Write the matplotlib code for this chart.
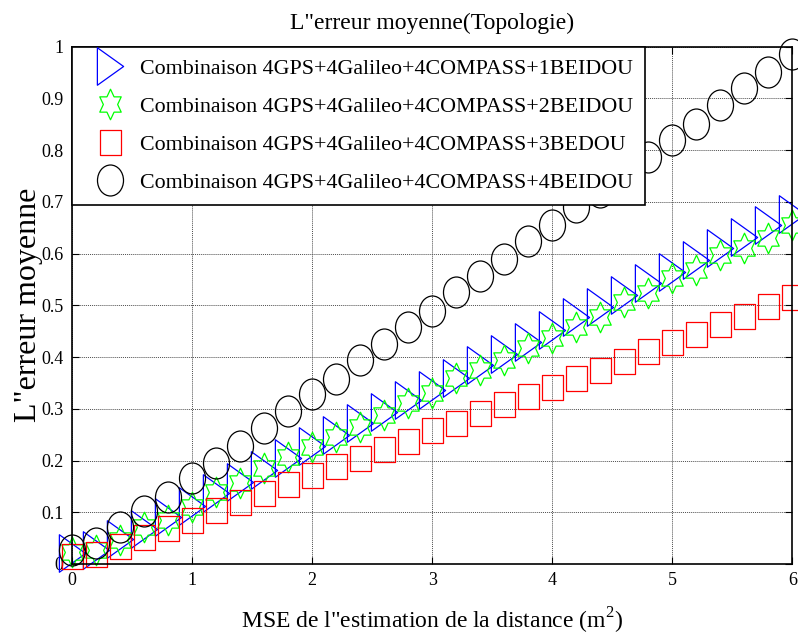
import numpy as np
import matplotlib
matplotlib.use("Agg")
import matplotlib.pyplot as plt
from matplotlib.path import Path
from matplotlib.transforms import Affine2D

plt.rcParams['font.family'] = ['Liberation Serif', 'DejaVu Serif']
plt.rcParams['mathtext.fontset'] = 'custom'
plt.rcParams['mathtext.rm'] = 'Liberation Serif'

# MSE de l'estimation de la distance (m^2)
mse = [0.0, 0.2, 0.4, 0.6, 0.8, 1.0, 1.2, 1.4, 1.6, 1.8,
       2.0, 2.2, 2.4, 2.6, 2.8, 3.0, 3.2, 3.4, 3.6, 3.8,
       4.0, 4.2, 4.4, 4.6, 4.8, 5.0, 5.2, 5.4, 5.6, 5.8, 6.0]

# erreur moyenne pour chaque combinaison
err_1beidou = [0.021, 0.028, 0.048, 0.068, 0.091, 0.113, 0.137, 0.159, 0.182, 0.205,
               0.228, 0.250, 0.272, 0.294, 0.316, 0.337, 0.360, 0.384, 0.406, 0.429,
               0.453, 0.477, 0.497, 0.520, 0.543, 0.565, 0.588, 0.611, 0.632, 0.656, 0.677]
err_2beidou = [0.024, 0.027, 0.046, 0.072, 0.085, 0.111, 0.140, 0.156, 0.185, 0.206,
               0.227, 0.246, 0.265, 0.288, 0.312, 0.330, 0.359, 0.375, 0.394, 0.417,
               0.437, 0.458, 0.478, 0.507, 0.523, 0.552, 0.568, 0.598, 0.610, 0.631, 0.655]
err_3beidou = [0.015, 0.020, 0.035, 0.053, 0.069, 0.085, 0.105, 0.119, 0.137, 0.155,
               0.172, 0.190, 0.205, 0.223, 0.238, 0.259, 0.273, 0.292, 0.310, 0.325,
               0.343, 0.360, 0.375, 0.393, 0.411, 0.429, 0.445, 0.463, 0.480, 0.499, 0.516]
err_4beidou = [0.028, 0.040, 0.072, 0.103, 0.130, 0.167, 0.196, 0.229, 0.262, 0.296,
               0.328, 0.357, 0.394, 0.426, 0.458, 0.489, 0.525, 0.557, 0.590, 0.624,
               0.656, 0.690, 0.719, 0.755, 0.787, 0.819, 0.851, 0.887, 0.919, 0.951, 0.986]

labels = ['Combinaison 4GPS+4Galileo+4COMPASS+1BEIDOU',
          'Combinaison 4GPS+4Galileo+4COMPASS+2BEIDOU',
          'Combinaison 4GPS+4Galileo+4COMPASS+3BEDOU',
          'Combinaison 4GPS+4Galileo+4COMPASS+4BEIDOU']

# marqueurs un peu ecrases horizontalement comme dans la figure d'origine
tri = Path([(-0.35, 0.5), (0.35, 0.0), (-0.35, -0.5), (-0.35, 0.5)],
           [Path.MOVETO, Path.LINETO, Path.LINETO, Path.CLOSEPOLY])
ang = np.pi / 2 + np.arange(12) * np.pi / 6
rad = np.where(np.arange(12) % 2 == 0, 1.0, 1 / np.sqrt(3))
star_pts = np.column_stack((rad * np.cos(ang) * 0.81, rad * np.sin(ang)))
star = Path(np.vstack((star_pts, star_pts[:1])),
            [Path.MOVETO] + [Path.LINETO] * 11 + [Path.CLOSEPOLY])
square = Path([(-0.42, -0.5), (0.42, -0.5), (0.42, 0.5), (-0.42, 0.5), (-0.42, -0.5)],
              [Path.MOVETO, Path.LINETO, Path.LINETO, Path.LINETO, Path.CLOSEPOLY])
ellipse = Path.unit_circle().transformed(Affine2D().scale(0.84, 1.0))

fig = plt.figure(figsize=(7.98, 6.38), dpi=100)
ax = fig.add_axes([0.0902, 0.116, 0.9029, 0.811])

kw = dict(linestyle='none', markerfacecolor='none', markeredgewidth=0.9, clip_on=False)
ax.plot(mse, err_1beidou, marker=tri, markersize=27, markeredgecolor='blue', label=labels[0], **kw)
ax.plot(mse, err_2beidou, marker=star, markersize=22, markeredgecolor='#00ff00', label=labels[1], **kw)
ax.plot(mse, err_3beidou, marker=square, markersize=18, markeredgecolor='red', label=labels[2], **kw)
ax.plot(mse, err_4beidou, marker=ellipse, markersize=22.3, markeredgecolor='black', label=labels[3], **kw)

ax.set_xlim(0, 6)
ax.set_ylim(0, 1)
ax.set_xticks(np.arange(0, 7, 1))
ax.set_yticks(np.arange(0, 1.01, 0.1))
ax.set_yticklabels(['0', '0.1', '0.2', '0.3', '0.4', '0.5', '0.6', '0.7', '0.8', '0.9', '1'])
ax.tick_params(direction='in', top=True, right=True, length=5, width=0.8,
               labelsize=13, pad=6)
ax.grid(True, linestyle=(0, (1, 1)), color='0.3', linewidth=0.7)
for s in ax.spines.values():
    s.set_linewidth(1.2)

ax.set_title('L"erreur moyenne(Topologie)', fontsize=17, pad=13)
ax.set_xlabel('MSE de l"estimation de la distance (m$^{2}$)', fontsize=17, labelpad=12)
ax.set_ylabel('L"erreur moyenne', fontsize=23, labelpad=-1)

leg = ax.legend(loc='upper left', bbox_to_anchor=(0, 1), borderaxespad=0,
                fontsize=15.8, fancybox=False, framealpha=1, edgecolor='black',
                handlelength=2.4, handletextpad=0.15, labelspacing=0.8,
                borderpad=0.55)
leg.get_frame().set_linewidth(1.2)

fig.savefig('out.png', dpi=100)
